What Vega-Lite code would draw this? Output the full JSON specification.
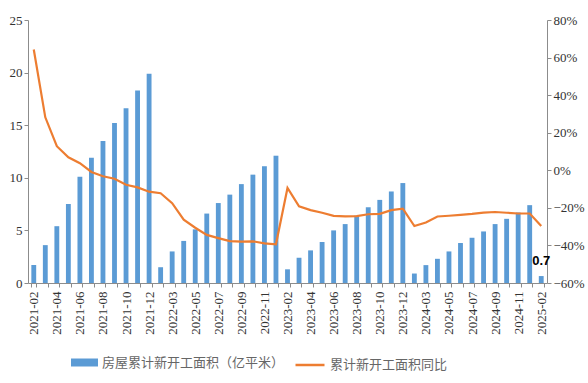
{
  "$schema": "https://vega.github.io/schema/vega-lite/v6.json",
  "width": 519,
  "height": 263,
  "autosize": {"type": "none"},
  "padding": {"left": 28, "top": 20, "right": 41, "bottom": 100},
  "background": "white",
  "config": {
    "view": {"stroke": null},
    "axis": {
      "labelFont": "Liberation Serif",
      "labelFontSize": 13,
      "labelColor": "#333333",
      "domainColor": "#8c8c8c",
      "tickColor": "#8c8c8c",
      "tickSize": 4,
      "grid": false,
      "title": null
    }
  },
  "data": {
    "values": [
      {"month": "2021-02", "area": 1.7, "yoy": 64.3},
      {"month": "2021-03", "area": 3.6, "yoy": 28.2},
      {"month": "2021-04", "area": 5.4, "yoy": 12.8},
      {"month": "2021-05", "area": 7.5, "yoy": 6.9},
      {"month": "2021-06", "area": 10.1, "yoy": 3.8},
      {"month": "2021-07", "area": 11.9, "yoy": -0.9},
      {"month": "2021-08", "area": 13.5, "yoy": -3.2},
      {"month": "2021-09", "area": 15.2, "yoy": -4.5},
      {"month": "2021-10", "area": 16.6, "yoy": -7.7},
      {"month": "2021-11", "area": 18.3, "yoy": -9.1},
      {"month": "2021-12", "area": 19.9, "yoy": -11.4},
      {"month": "2022-02", "area": 1.5, "yoy": -12.2},
      {"month": "2022-03", "area": 3.0, "yoy": -17.5},
      {"month": "2022-04", "area": 4.0, "yoy": -26.3},
      {"month": "2022-05", "area": 5.1, "yoy": -30.6},
      {"month": "2022-06", "area": 6.6, "yoy": -34.4},
      {"month": "2022-07", "area": 7.6, "yoy": -36.1},
      {"month": "2022-08", "area": 8.4, "yoy": -37.7},
      {"month": "2022-09", "area": 9.4, "yoy": -38.0},
      {"month": "2022-10", "area": 10.3, "yoy": -37.8},
      {"month": "2022-11", "area": 11.1, "yoy": -38.9},
      {"month": "2022-12", "area": 12.1, "yoy": -39.4},
      {"month": "2023-02", "area": 1.3, "yoy": -9.4},
      {"month": "2023-03", "area": 2.4, "yoy": -19.2},
      {"month": "2023-04", "area": 3.1, "yoy": -21.2},
      {"month": "2023-05", "area": 3.9, "yoy": -22.6},
      {"month": "2023-06", "area": 5.0, "yoy": -24.3},
      {"month": "2023-07", "area": 5.6, "yoy": -24.5},
      {"month": "2023-08", "area": 6.4, "yoy": -24.4},
      {"month": "2023-09", "area": 7.2, "yoy": -23.4},
      {"month": "2023-10", "area": 7.9, "yoy": -23.2},
      {"month": "2023-11", "area": 8.7, "yoy": -21.2},
      {"month": "2023-12", "area": 9.5, "yoy": -20.4},
      {"month": "2024-02", "area": 0.9, "yoy": -29.7},
      {"month": "2024-03", "area": 1.7, "yoy": -27.8},
      {"month": "2024-04", "area": 2.3, "yoy": -24.6},
      {"month": "2024-05", "area": 3.0, "yoy": -24.2},
      {"month": "2024-06", "area": 3.8, "yoy": -23.7},
      {"month": "2024-07", "area": 4.3, "yoy": -23.2},
      {"month": "2024-08", "area": 4.9, "yoy": -22.5},
      {"month": "2024-09", "area": 5.6, "yoy": -22.2},
      {"month": "2024-10", "area": 6.1, "yoy": -22.6},
      {"month": "2024-11", "area": 6.7, "yoy": -23.0},
      {"month": "2024-12", "area": 7.4, "yoy": -23.0},
      {"month": "2025-02", "area": 0.66, "yoy": -29.6}
    ]
  },
  "encoding": {
    "x": {
      "field": "month",
      "type": "ordinal",
      "sort": null,
      "scale": {"paddingInner": 0.58, "paddingOuter": 0.29},
      "axis": {
        "labelAngle": -90,
        "labelAlign": "right",
        "labelBaseline": "middle",
        "labelOverlap": false,
        "labelPadding": 4,
        "tickBand": "extent",
        "labelExpr": "indexof(['2021-02','2021-04','2021-06','2021-08','2021-10','2021-12','2022-03','2022-05','2022-07','2022-09','2022-11','2023-02','2023-04','2023-06','2023-08','2023-10','2023-12','2024-03','2024-05','2024-07','2024-09','2024-11','2025-02'], datum.value) >= 0 ? datum.label : ''"
      }
    }
  },
  "layer": [
    {
      "layer": [
        {
          "mark": {"type": "bar"},
          "encoding": {
            "y": {
              "field": "area",
              "type": "quantitative",
              "scale": {"domain": [0, 25], "nice": false, "zero": true},
              "axis": {"values": [0, 5, 10, 15, 20, 25], "orient": "left"}
            },
            "fill": {
              "datum": "房屋累计新开工面积（亿平米）",
              "type": "nominal",
              "scale": {"range": ["#5B9BD5"]},
              "legend": {
                "orient": "none",
                "legendX": 43,
                "legendY": 329,
                "title": null,
                "symbolType": "M-1,-0.296H1V0.296H-1Z",
                "symbolSize": 729,
                "symbolStrokeWidth": 0,
                "labelFont": "Noto Sans CJK SC",
                "labelFontSize": 13,
                "labelColor": "#666666",
                "labelLimit": 400
              }
            }
          }
        },
        {
          "transform": [{"filter": "datum.month == '2025-02'"}],
          "mark": {
            "type": "text",
            "font": "Liberation Sans",
            "fontSize": 13,
            "fontWeight": "bold",
            "color": "#000000",
            "baseline": "alphabetic",
            "dy": -11
          },
          "encoding": {
            "y": {"field": "area", "type": "quantitative"},
            "text": {"field": "area", "type": "quantitative", "format": ".1f"}
          }
        }
      ]
    },
    {
      "mark": {"type": "line", "strokeWidth": 2.2},
      "encoding": {
        "y": {
          "field": "yoy",
          "type": "quantitative",
          "scale": {"domain": [-60, 80], "nice": false, "zero": false},
          "axis": {
            "orient": "right",
            "values": [-60, -40, -20, 0, 20, 40, 60, 80],
            "labelExpr": "format(datum.value / 100, '.0%')"
          }
        },
        "stroke": {
          "datum": "累计新开工面积同比",
          "type": "nominal",
          "scale": {"range": ["#ED7D31"]},
          "legend": {
            "orient": "none",
            "legendX": 266,
            "legendY": 329,
            "title": null,
            "symbolType": "stroke",
            "symbolSize": 841,
            "symbolStrokeWidth": 2.5,
            "labelFont": "Noto Sans CJK SC",
            "labelFontSize": 13,
            "labelColor": "#666666",
            "labelLimit": 400
          }
        }
      }
    }
  ],
  "resolve": {"scale": {"y": "independent"}}
}
